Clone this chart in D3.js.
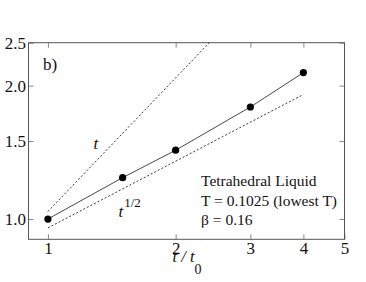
<!DOCTYPE html>
<html>
<head>
<meta charset="utf-8">
<script src="https://cdn.jsdelivr.net/npm/d3@7"></script>
<style>
    body { margin: 0; background: #fff; }
    svg text { font-family: "Liberation Serif", Tinos, "Times New Roman", Times, "DejaVu Serif", serif !important; fill: #111; }
</style>
</head>
<body>
<script>
// measured points
const times = [1, 1.5, 2, 3, 4]
const values = [1.0, 1.24, 1.43, 1.79, 2.14]

// guide lines (endpoints)
const linearT = [1, 2.4]
const linearY = [1.04, 2.5]
const sqrtT = [1, 4]
const sqrtY = [0.955, 1.91]

const xTicks = [1, 2, 3, 4, 5]
const yTicks = [1.0, 1.5, 2.0, 2.5]

const infoLines = ["Tetrahedral Liquid", "T = 0.1025 (lowest T)", "\u03b2 = 0.16"]

const WIDTH = 366
const HEIGHT = 282
const SERIF = "'Liberation Serif', Tinos, 'Times New Roman', Times, 'DejaVu Serif', serif"

const PADDING = {
    left: 28.5,
    right: 21.5,
    top: 42.7,
    bottom: 42.7
}

const svg = d3
    .select("body")
    .append("svg")
    .attr("width", WIDTH)
    .attr("height", HEIGHT)
    .attr("font-family", SERIF)

const x = d3.scaleLog()
    .domain([0.9, 5])
    .range([PADDING.left, WIDTH - PADDING.right])

const y = d3.scaleLog()
    .domain([0.9, 2.5])
    .range([HEIGHT - PADDING.bottom, PADDING.top])

const line = d3.line()
    .x(d => x(d[0]))
    .y(d => y(d[1]))

// axes, ticks pointing inward
const styleAxis = g => {
    g.attr("font-family", SERIF)
    g.select(".domain").remove()
    g.selectAll(".tick line").attr("stroke", "#888")
    g.selectAll(".tick text")
        .attr("font-family", SERIF)
        .attr("font-size", "17px")
        .attr("fill", "#111")
}

svg.append("g")
    .attr("transform", `translate(0,${HEIGHT - PADDING.bottom})`)
    .call(d3.axisBottom(x).tickValues(xTicks).tickFormat(d3.format("d"))
        .tickSizeInner(-5).tickSizeOuter(0).tickPadding(3))
    .call(styleAxis)

svg.append("g")
    .attr("transform", `translate(0,${PADDING.top})`)
    .call(d3.axisTop(x).tickValues(xTicks.slice(0, 4)).tickFormat("")
        .tickSizeInner(-5).tickSizeOuter(0))
    .call(styleAxis)

svg.append("g")
    .attr("transform", `translate(${PADDING.left},0)`)
    .call(d3.axisLeft(y).tickValues(yTicks).tickFormat(d3.format(".1f"))
        .tickSizeInner(-5).tickSizeOuter(0).tickPadding(2.5))
    .call(styleAxis)

svg.append("g")
    .attr("transform", `translate(${WIDTH - PADDING.right},0)`)
    .call(d3.axisRight(y).tickValues(yTicks).tickFormat("")
        .tickSizeInner(-5).tickSizeOuter(0))
    .call(styleAxis)

// frame
svg.append("rect")
    .attr("x", PADDING.left)
    .attr("y", PADDING.top)
    .attr("width", WIDTH - PADDING.left - PADDING.right)
    .attr("height", HEIGHT - PADDING.top - PADDING.bottom)
    .attr("fill", "none")
    .attr("stroke", "#555")
    .attr("stroke-width", 1)

// guide lines
svg.append("path")
    .datum(d3.zip(linearT, linearY))
    .attr("d", line)
    .attr("fill", "none")
    .attr("stroke", "#222")
    .attr("stroke-width", 0.9)
    .attr("stroke-dasharray", "2,2")

svg.append("path")
    .datum(d3.zip(sqrtT, sqrtY))
    .attr("d", line)
    .attr("fill", "none")
    .attr("stroke", "#222")
    .attr("stroke-width", 0.9)
    .attr("stroke-dasharray", "2,2")

// data
svg.append("path")
    .datum(d3.zip(times, values))
    .attr("d", line)
    .attr("fill", "none")
    .attr("stroke", "#333")
    .attr("stroke-width", 0.9)

svg.selectAll(".pt")
    .data(d3.zip(times, values))
    .enter()
    .append("circle")
    .attr("class", "pt")
    .attr("cx", d => x(d[0]))
    .attr("cy", d => y(d[1]))
    .attr("r", 3.6)
    .attr("fill", "#000")

// labels
svg.append("text")
    .attr("x", 43)
    .attr("y", 70)
    .attr("font-size", "17px")
    .text("b)")

svg.append("text")
    .attr("x", 93.5)
    .attr("y", 148.5)
    .attr("font-size", "17px")
    .attr("font-style", "italic")
    .text("t")

const sq = svg.append("text")
    .attr("x", 118.5)
    .attr("y", 216.5)
    .attr("font-size", "17px")
sq.append("tspan").attr("font-style", "italic").text("t")
sq.append("tspan").attr("font-size", "13px").attr("dy", -10).attr("dx", 1).text("1/2")

const xt = svg.append("text")
    .attr("x", 172.5)
    .attr("y", 262)
    .attr("font-size", "16.5px")
xt.append("tspan").attr("font-style", "italic").text("t / t")
xt.append("tspan").attr("font-size", "14px").attr("dy", 12).text("0")

svg.selectAll(".info")
    .data(infoLines)
    .enter()
    .append("text")
    .attr("class", "info")
    .attr("x", 201)
    .attr("y", (_, i) => 186 + i * 19.5)
    .attr("font-size", "15.5px")
    .text(d => d)
</script>
</body>
</html>
